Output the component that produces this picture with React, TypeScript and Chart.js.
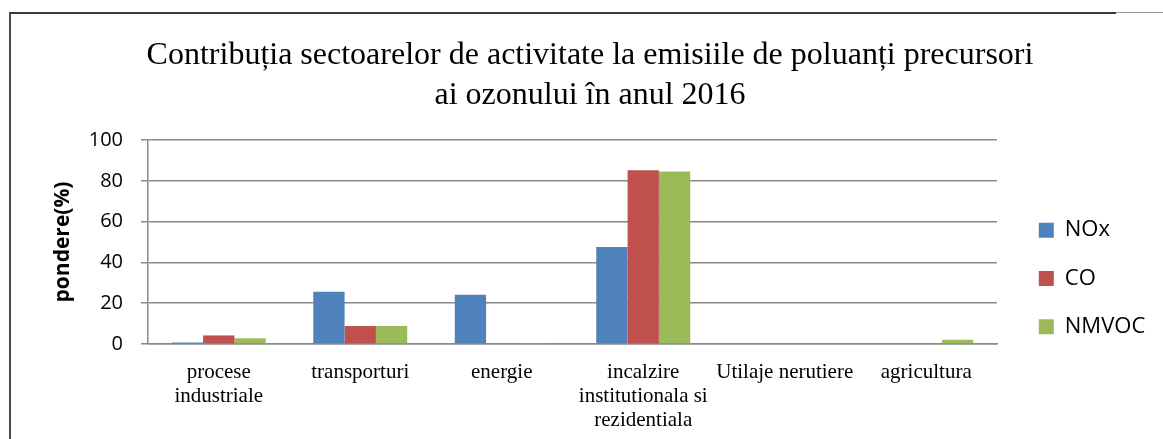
import React, { useEffect, useRef } from "react";
import { Chart, registerables } from "chart.js";

Chart.register(...registerables);

const titleLines = [
  "Contribuția sectoarelor de activitate la emisiile de poluanți precursori",
  "ai ozonului în anul 2016",
];
const categories: (string | string[])[] = [
  ["procese", "industriale"],
  "transporturi",
  "energie",
  ["incalzire", "institutionala si", "rezidentiala"],
  "Utilaje nerutiere",
  "agricultura",
];
const seriesNames = ["NOx", "CO", "NMVOC"];
const noxValues = [0.7, 25.6, 24.2, 47.6, 0, 0];
const coValues = [4.2, 8.8, 0.3, 85.2, 0, 0];
const nmvocValues = [2.8, 8.8, 0.3, 84.5, 0, 2.1];
const yAxisTitle = "pondere(%)";
const yMin = 0;
const yMax = 100;
const yStep = 20;

const colors = ["#4F81BD", "#C0504D", "#9BBB59"];
const SANS = "'Open Sans', sans-serif";
const SERIF = "'Liberation Serif', serif";

const W = 1152;
const H = 529;
const AREA_LEFT = 137;
const AREA_RIGHT = 986;
const AREA_BOTTOM = 330;
const SPACER = 15.5;
const LEG_PAD = 26.3;
const LEG_FONT = 22;
const LEG_BOX = 15;
const TITLE_CENTER = 579; // canvas x of title centre

export default function App() {
  const ref = useRef<HTMLCanvasElement | null>(null);

  useEffect(() => {
    const canvas = ref.current;
    if (!canvas) return;
    const mctx = document.createElement("canvas").getContext("2d")!;
    mctx.font = `${LEG_FONT}px ${SANS}`;
    const maxText = Math.max(...seriesNames.map((s) => mctx.measureText(s).width));
    const legendW = LEG_PAD + LEG_BOX + LEG_FONT / 2 + maxText + 10;
    const padRight = W - AREA_RIGHT - SPACER - legendW;
    const padLeft = Math.max(0, 2 * TITLE_CENTER - W + padRight);

    const chart = new Chart(canvas, {
      type: "bar",
      data: {
        labels: categories,
        datasets: [noxValues, coValues, nmvocValues].map((d, i) => ({
          label: seriesNames[i],
          data: d,
          backgroundColor: colors[i],
          borderWidth: 0,
          categoryPercentage: 0.664,
          barPercentage: 1,
          xAxisID: "x",
          yAxisID: "y",
        })),
      },
      options: {
        responsive: false,
        animation: false,
        devicePixelRatio: 1,
        layout: { padding: { left: padLeft, right: padRight, top: 0, bottom: 0 } },
        plugins: {
          tooltip: { enabled: false },
          title: {
            display: true,
            text: titleLines,
            color: "#000",
            font: { family: SERIF, size: 32, weight: "normal", lineHeight: 1.25 },
            padding: { top: 22, bottom: 24 },
          },
          legend: {
            display: true,
            position: "right",
            align: "center",
            fullSize: true,
            labels: {
              color: "#000",
              font: { family: SANS, size: LEG_FONT },
              boxWidth: LEG_BOX,
              boxHeight: LEG_BOX,
              padding: LEG_PAD,
            },
          },
        },
        scales: {
          x: {
            type: "category",
            position: "bottom",
            grid: { display: false, drawTicks: false },
            border: { display: true, color: "#8a8a8a", width: 1.5 },
            ticks: {
              color: "#000",
              font: { family: SERIF, size: 21, lineHeight: 1.15 },
              padding: 16,
              maxRotation: 0,
              autoSkip: false,
            },
            afterFit: (s: any) => {
              s.height = H - AREA_BOTTOM;
            },
          },
          y: {
            type: "linear",
            position: "left",
            min: yMin,
            max: yMax,
            grid: {
              color: "#8a8a8a",
              lineWidth: 1.5,
              tickLength: 7,
              drawTicks: true,
            },
            border: { display: true, color: "#8a8a8a", width: 1.5 },
            ticks: {
              stepSize: yStep,
              color: "#000",
              font: { family: SANS, size: 20 },
              padding: 18,
            },
            title: {
              display: true,
              text: yAxisTitle,
              color: "#000",
              font: { family: SANS, size: 21, weight: "bold", lineHeight: 1.2 },
              padding: { top: Math.max(0, 39 - padLeft), bottom: 0 },
            },
            afterFit: (s: any) => {
              s.width = AREA_LEFT - padLeft;
            },
          },
          spacer: {
            type: "linear",
            position: "right",
            display: true,
            grid: { display: false, drawTicks: false },
            border: { display: false },
            ticks: { display: false },
            afterFit: (s: any) => {
              s.width = SPACER;
            },
          },
        },
      },
    });
    return () => chart.destroy();
  }, []);

  return (
    <div>
      <div
        style={{
          position: "absolute",
          left: 9,
          top: 12,
          width: 1107,
          height: 427,
          borderLeft: "2px solid #4a4a4a",
          borderTop: "2px solid #3a3a3a",
          boxSizing: "border-box",
        }}
      />
      <div
        style={{
          position: "absolute",
          left: 1116,
          top: 12,
          width: 47,
          height: 0,
          borderTop: "1px solid #9a9a9a",
        }}
      />
      <div
        style={{
          position: "absolute",
          left: 11,
          top: 14,
          width: W,
          height: 425,
          overflow: "hidden",
        }}
      >
        <canvas ref={ref} width={W} height={H} style={{ display: "block", width: W, height: H }} />
      </div>
    </div>
  );
}
